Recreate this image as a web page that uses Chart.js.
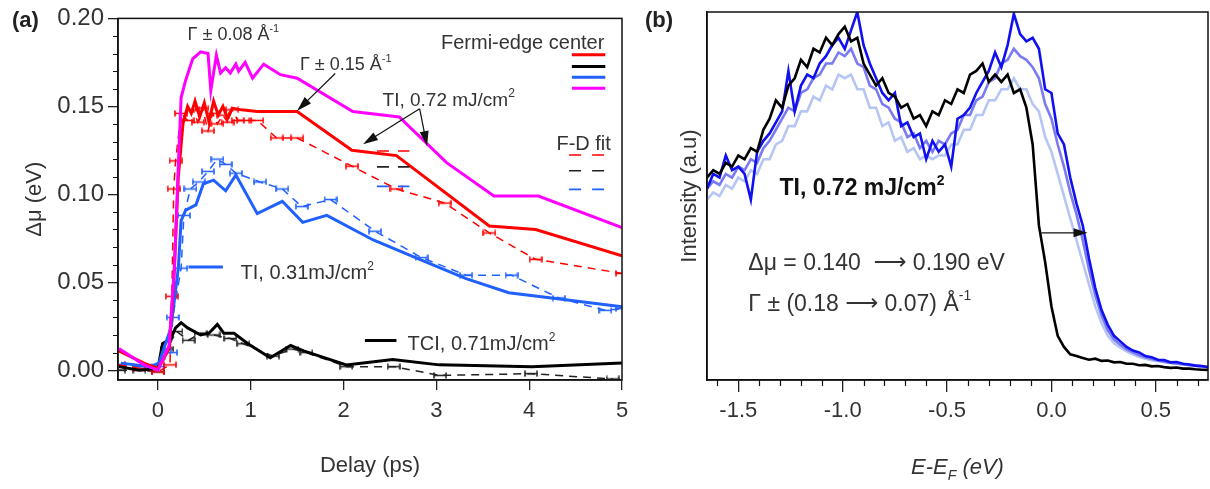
<!DOCTYPE html>
<html lang="en">
<head>
<meta charset="UTF-8">
<title>Fermi-edge shift and EDCs</title>
<script src="https://cdn.jsdelivr.net/npm/chart.js"></script>
<style>
  body { margin: 0; background: #fff; overflow: hidden; }
  #wrap { position: relative; width: 1210px; height: 489px; }
  canvas { position: absolute; top: 0; }
  #delayChart { left: 0; }
  #edcChart { left: 640px; }
</style>
</head>
<body>
<div id="wrap">
  <canvas id="delayChart" width="640" height="489"></canvas>
  <canvas id="edcChart" width="570" height="489"></canvas>
</div>

<script>
// ---------- (a) Fermi-edge shift vs pump-probe delay ----------
const delayTicks = [0, 1, 2, 3, 4, 5];
const shiftTicks = [0, 0.05, 0.10, 0.15, 0.20];

// Fermi-edge center, TI 0.72 mJ/cm2 at Γ ± 0.08 Å-1
const magentaT = [-0.42, -0.15, 0.0, 0.12, 0.18, 0.215, 0.25, 0.30, 0.375, 0.46, 0.54, 0.57, 0.63, 0.675, 0.73, 0.78, 0.84, 0.87, 0.94, 1.02, 1.14, 1.32, 1.50, 2.10, 2.60, 3.11, 3.62, 4.10, 5.0];
const magentaV = [0.0123, 0.003, 0.0, 0.014, 0.06, 0.11, 0.155, 0.165, 0.177, 0.181, 0.180, 0.159, 0.179, 0.169, 0.172, 0.169, 0.174, 0.170, 0.175, 0.166, 0.174, 0.168, 0.166, 0.147, 0.144, 0.118, 0.099, 0.099, 0.081];

// Fermi-edge center, TI 0.72 mJ/cm2 at Γ ± 0.15 Å-1
const redT = [-0.42, -0.15, 0.0, 0.12, 0.17, 0.22, 0.27, 0.32, 0.36, 0.40, 0.45, 0.50, 0.55, 0.60, 0.65, 0.70, 0.75, 0.80, 0.90, 1.07, 1.50, 2.09, 2.57, 3.57, 4.07, 5.0];
const redV = [0.011, 0.004, 0.001, 0.012, 0.05, 0.11, 0.14, 0.150, 0.146, 0.153, 0.144, 0.152, 0.141, 0.153, 0.145, 0.150, 0.143, 0.149, 0.148, 0.147, 0.147, 0.125, 0.122, 0.082, 0.080, 0.065];

// Fermi-edge center, TI 0.31 mJ/cm2
const blueT = [-0.40, -0.08, 0.01, 0.14, 0.22, 0.25, 0.30, 0.41, 0.49, 0.60, 0.73, 0.84, 1.07, 1.34, 1.56, 1.82, 2.32, 2.82, 3.32, 3.78, 4.24, 5.0];
const blueV = [0.004, 0.002, 0.004, 0.024, 0.058, 0.085, 0.091, 0.094, 0.106, 0.108, 0.102, 0.111, 0.089, 0.096, 0.084, 0.088, 0.074, 0.063, 0.052, 0.044, 0.041, 0.036];

// Fermi-edge center, TCI 0.71 mJ/cm2
const blackT = [-0.42, -0.2, 0.0, 0.05, 0.14, 0.19, 0.25, 0.32, 0.46, 0.55, 0.64, 0.71, 0.82, 0.97, 1.21, 1.43, 1.57, 2.03, 2.53, 3.03, 4.03, 5.0];
const blackV = [0.002, 0.0, 0.001, 0.015, 0.018, 0.024, 0.027, 0.024, 0.020, 0.021, 0.026, 0.021, 0.021, 0.015, 0.007, 0.014, 0.011, 0.003, 0.006, 0.003, 0.002, 0.004];

// F-D fit results with error bars
const redFitT = [-0.42, -0.2, 0.0, 0.13, 0.15, 0.17, 0.19, 0.25, 0.32, 0.38, 0.43, 0.48, 0.54, 0.59, 0.64, 0.70, 0.75, 0.80, 0.86, 0.92, 1.07, 1.28, 1.50, 2.09, 2.57, 3.09, 3.57, 4.07, 5.0];
const redFitV = [0.003, 0.001, -0.001, 0.003, 0.042, 0.103, 0.119, 0.146, 0.142, 0.148, 0.141, 0.149, 0.136, 0.146, 0.140, 0.145, 0.141, 0.148, 0.142, 0.142, 0.142, 0.132, 0.132, 0.116, 0.103, 0.095, 0.078, 0.063, 0.055];
const blueFitT = [-0.42, -0.2, 0.0, 0.14, 0.16, 0.25, 0.28, 0.35, 0.44, 0.54, 0.64, 0.73, 0.84, 1.10, 1.34, 1.55, 1.86, 2.34, 2.84, 3.32, 3.81, 4.32, 4.82, 5.0];
const blueFitV = [0.003, 0.002, 0.002, 0.010, 0.030, 0.058, 0.088, 0.103, 0.107, 0.113, 0.120, 0.117, 0.112, 0.107, 0.103, 0.093, 0.097, 0.079, 0.064, 0.054, 0.054, 0.041, 0.034, 0.035];
const blackFitT = [-0.42, -0.2, 0.0, 0.1, 0.2, 0.33, 0.46, 0.6, 0.78, 0.92, 1.24, 1.45, 1.6, 2.03, 2.54, 3.04, 4.02, 4.9];
const blackFitV = [0.0, 0.0, -0.001, 0.012, 0.022, 0.017, 0.021, 0.020, 0.018, 0.015, 0.008, 0.012, 0.010, 0.002, 0.002, -0.003, -0.002, -0.005];

// ---------- (b) energy distribution curves ----------
const energyTicks = [-1.5, -1.0, -0.5, 0.0, 0.5];
const energy = [
  -1.65, -1.62, -1.59, -1.56, -1.53, -1.50, -1.47, -1.44, -1.41, -1.38,
  -1.35, -1.32, -1.29, -1.26, -1.23, -1.20, -1.17, -1.14, -1.11, -1.08,
  -1.05, -1.02, -0.99, -0.96, -0.93, -0.90, -0.87, -0.84, -0.81, -0.78,
  -0.75, -0.72, -0.69, -0.66, -0.63, -0.60, -0.57, -0.54, -0.51, -0.48,
  -0.45, -0.42, -0.39, -0.36, -0.33, -0.30, -0.27, -0.24, -0.21, -0.18,
  -0.15, -0.12, -0.09, -0.06, -0.03, 0.00, 0.03, 0.06, 0.09, 0.12,
  0.15, 0.18, 0.21, 0.24, 0.27, 0.30, 0.33, 0.36, 0.39, 0.42,
  0.45, 0.48, 0.51, 0.54, 0.57, 0.60, 0.63, 0.66, 0.69, 0.72,
  0.75
];
const edcBlack = [
  55, 57, 56, 59, 58, 61, 60, 63, 62, 68,
  71, 76, 74, 80, 82, 87, 85, 90, 89, 93,
  91, 94, 96, 92, 93, 86, 83, 80, 82, 78,
  77, 74, 75, 71, 72, 69, 73, 72, 76, 75,
  79, 78, 83, 84, 86, 81, 83, 81, 83, 78,
  79, 74, 64, 42, 32, 20, 12, 9, 7, 6.5,
  6, 5.5, 5.8, 5.2, 5.3, 4.8, 4.9, 4.4, 4.4, 4.0,
  4.1, 3.7, 3.8, 3.5, 3.3, 3.4, 3.1, 3.1, 2.9, 2.8,
  2.7
];
const edcBlue = [
  52, 56, 55, 61, 57, 58, 56, 49, 62, 65,
  67, 70, 73, 84, 73, 80, 83, 82, 86, 88,
  91, 93, 90, 95, 100, 91, 86, 82, 78, 76,
  78, 69, 70, 66, 67, 60, 65, 62, 64, 58,
  71, 72, 74, 78, 81, 84, 89, 85, 91, 99.5,
  94, 92, 93, 90, 79, 78, 67, 64, 55, 48,
  42, 33, 25, 19, 15, 12, 10.5, 9, 8, 7.5,
  6.5, 6.2, 5.5, 5.4, 4.8, 4.9, 4.4, 4.2, 3.9, 3.8,
  3.5
];
const edcMid = [
  52, 54, 53, 56, 55, 58, 57, 60, 59, 63,
  65, 68, 71, 74, 73, 78, 79, 82, 83, 86,
  86, 89, 88, 90, 86, 85, 80, 79, 75, 74,
  71, 70, 66, 67, 63, 65, 62, 65, 64, 67,
  68, 72, 72, 76, 77, 81, 82, 86, 87, 90,
  88, 87, 85, 82, 75, 71, 64, 58, 51, 45,
  38, 30, 23, 17.5, 13.5, 11, 9.6, 8.3, 7.5, 6.7,
  6.2, 5.7, 5.3, 5.0, 4.7, 4.5, 4.3, 4.1, 3.9, 3.7,
  3.5
];
const edcLight = [
  49, 51, 50, 53, 52, 55, 54, 57, 56, 60,
  60, 64, 65, 69, 69, 73, 73, 77, 76, 80,
  79, 83, 82, 83, 79, 79, 74, 74, 69, 70,
  65, 66, 62, 63, 60, 61, 60, 61, 61, 64,
  64, 68, 68, 72, 72, 76, 76, 79, 79, 82,
  79, 79, 75, 73, 66, 62, 56, 50, 44, 38,
  32, 26, 20, 15.5, 12, 10, 8.8, 7.8, 7, 6.3,
  5.8, 5.4, 5.1, 4.8, 4.6, 4.4, 4.2, 4.0, 3.8, 3.6,
  3.4
];

const FONT = '"Liberation Sans", Arial, sans-serif';
const ARROW_FONT = '"DejaVu Sans", sans-serif';
const TEXT = '#333';
const RED = '#ff0000', MAGENTA = '#ff00ff', BLUE = '#2060ff', BLACK = '#000';

const pts = (xs, ys) => xs.map((x, i) => ({ x: x, y: ys[i] }));

// small horizontal error bar used as marker on the F-D fit points
function errorBar(color) {
  const c = document.createElement('canvas');
  c.width = 14; c.height = 7;
  const g = c.getContext('2d');
  g.strokeStyle = color;
  g.lineWidth = 1.6;
  g.beginPath();
  g.moveTo(1, 0.5); g.lineTo(1, 6.5);
  g.moveTo(13, 0.5); g.lineTo(13, 6.5);
  g.moveTo(1, 3.5); g.lineTo(13, 3.5);
  g.stroke();
  return c;
}

function solid(label, xs, ys, color, order) {
  return { label, data: pts(xs, ys), borderColor: color, borderWidth: 3, pointRadius: 0, tension: 0, order };
}
function fitted(label, xs, ys, color, order) {
  return {
    label, data: pts(xs, ys), borderColor: color, borderWidth: 1.5, borderDash: [8, 6],
    pointStyle: errorBar(color), pointRadius: 4, tension: 0, order
  };
}

// text with superscript / subscript runs: parts = [[text, 'sup'|'sub'|'arrow'|undefined], ...]
function rich(ctx, parts, x, y, size, opts) {
  opts = opts || {};
  const pre = (opts.italic ? 'italic ' : '') + (opts.bold ? 'bold ' : '');
  const small = Math.round(size * 0.62);
  const fontOf = p => {
    if (p[1] === 'arrow') return size + 'px ' + ARROW_FONT;
    return pre + (p[1] ? small : size) + 'px ' + FONT;
  };
  let w = 0;
  parts.forEach(p => { ctx.font = fontOf(p); w += ctx.measureText(p[0]).width; });
  let cx = opts.align === 'center' ? x - w / 2 : opts.align === 'right' ? x - w : x;
  ctx.textAlign = 'left';
  ctx.textBaseline = 'alphabetic';
  ctx.fillStyle = opts.color || TEXT;
  parts.forEach(p => {
    ctx.font = fontOf(p);
    const dy = p[1] === 'sup' ? -size * 0.45 : p[1] === 'sub' ? size * 0.28 : p[1] === 'arrow' ? -1 : 0;
    ctx.fillText(p[0], cx, y + dy);
    cx += ctx.measureText(p[0]).width;
  });
}

function arrow(ctx, x1, y1, x2, y2, len, half) {
  const a = Math.atan2(y2 - y1, x2 - x1);
  ctx.strokeStyle = '#111';
  ctx.fillStyle = '#111';
  ctx.lineWidth = 1.2;
  ctx.beginPath();
  ctx.moveTo(x1, y1);
  ctx.lineTo(x2 - Math.cos(a) * len * 0.8, y2 - Math.sin(a) * len * 0.8);
  ctx.stroke();
  ctx.beginPath();
  ctx.moveTo(x2, y2);
  ctx.lineTo(x2 - Math.cos(a) * len - Math.sin(a) * half, y2 - Math.sin(a) * len + Math.cos(a) * half);
  ctx.lineTo(x2 - Math.cos(a) * len + Math.sin(a) * half, y2 - Math.sin(a) * len - Math.cos(a) * half);
  ctx.closePath();
  ctx.fill();
}

function segment(ctx, x1, x2, y, color, width, dash) {
  ctx.save();
  ctx.strokeStyle = color;
  ctx.lineWidth = width;
  ctx.setLineDash(dash || []);
  ctx.beginPath();
  ctx.moveTo(x1, y);
  ctx.lineTo(x2, y);
  ctx.stroke();
  ctx.restore();
}

const delayNotes = {
  id: 'delayNotes',
  afterDraw(chart) {
    const { ctx, chartArea: ca } = chart;
    const X = v => chart.scales.x.getPixelForValue(v);
    const Y = v => chart.scales.y.getPixelForValue(v);
    ctx.save();
    // frame
    ctx.strokeStyle = '#111';
    ctx.lineWidth = 1.5;
    ctx.strokeRect(ca.left, ca.top, ca.right - ca.left, ca.bottom - ca.top);
    // minor ticks on the Δμ axis
    ctx.beginPath();
    for (let k = 1; k < 20; k++) {
      if (k % 5 === 0) continue;
      const y = Math.round(Y(k / 100)) + 0.5;
      ctx.moveTo(ca.left - 5, y);
      ctx.lineTo(ca.left, y);
    }
    ctx.lineWidth = 1.2;
    ctx.stroke();

    rich(ctx, [['(a)']], 12, 27, 22, { bold: true, color: '#222' });

    rich(ctx, [['Γ ± 0.08 Å'], ['-1', 'sup']], X(0.32), Y(0.1877), 18);
    rich(ctx, [['Γ ± 0.15 Å'], ['-1', 'sup']], X(1.53), Y(0.1704), 18);
    rich(ctx, [['TI, 0.72 mJ/cm'], ['2', 'sup']], X(2.42), Y(0.1503), 19);
    arrow(ctx, X(1.91), Y(0.1687), X(1.50), Y(0.1475), 15, 4.5);
    arrow(ctx, X(2.82), Y(0.1486), X(2.21), Y(0.1285), 15, 4.5);
    arrow(ctx, X(2.82), Y(0.1486), X(2.90), Y(0.1274), 15, 4.5);

    // legend: Fermi-edge center
    rich(ctx, [['Fermi-edge center']], X(4.81), Y(0.1827), 20, { align: 'right' });
    [[RED, 0.1793], [BLACK, 0.1726], [BLUE, 0.1665], [MAGENTA, 0.1603]].forEach(([c, v]) => {
      segment(ctx, X(4.46), X(4.82), Y(v), c, 3);
    });
    // legend: F-D fit
    rich(ctx, [['F-D fit']], X(4.88), Y(0.1251), 20, { align: 'right' });
    [[RED, 0.1223], ['#222', 0.1134], [BLUE, 0.1028]].forEach(([c, v]) => {
      segment(ctx, X(4.43), X(4.82), Y(v), c, 1.6, [12, 11]);
    });
    [[RED, 0.1246], ['#222', 0.1156], [BLUE, 0.1045]].forEach(([c, v]) => {
      segment(ctx, X(2.36), X(2.71), Y(v), c, 1.6, [12, 9]);
    });

    segment(ctx, X(0.33), X(0.70), Y(0.0587), BLUE, 3);
    rich(ctx, [['TI, 0.31mJ/cm'], ['2', 'sup']], X(0.89), Y(0.052), 20);
    segment(ctx, X(2.23), X(2.57), Y(0.0168), BLACK, 3);
    rich(ctx, [['TCI, 0.71mJ/cm'], ['2', 'sup']], X(2.69), Y(0.0112), 20);
    ctx.restore();
  }
};

const edcNotes = {
  id: 'edcNotes',
  afterDraw(chart) {
    const { ctx, chartArea: ca } = chart;
    const X = v => chart.scales.x.getPixelForValue(v);
    const Y = v => chart.scales.y.getPixelForValue(v);
    ctx.save();
    ctx.strokeStyle = '#111';
    ctx.lineWidth = 1.5;
    ctx.strokeRect(ca.left, ca.top, ca.right - ca.left, ca.bottom - ca.top);
    // minor ticks every 0.1 eV
    ctx.beginPath();
    for (let k = -16; k <= 7; k++) {
      if (k % 5 === 0) continue;
      const x = Math.round(X(k / 10)) + 0.5;
      ctx.moveTo(x, ca.bottom);
      ctx.lineTo(x, ca.bottom + 6);
    }
    ctx.lineWidth = 1.2;
    ctx.stroke();

    rich(ctx, [['(b)']], 5, 27, 22, { bold: true, color: '#222' });
    rich(ctx, [['E-E'], ['F', 'sub'], [' (eV)']], (ca.left + ca.right) / 2, 474, 22, { italic: true, align: 'center' });

    rich(ctx, [['TI, 0.72 mJ/cm'], ['2', 'sup']], X(-1.303), Y(50.3), 23, { bold: true, color: '#111' });
    rich(ctx, [['Δμ = 0.140  '], ['⟶', 'arrow'], [' 0.190 eV']], X(-1.452), Y(29.9), 23);
    rich(ctx, [['Γ ± (0.18 '], ['⟶', 'arrow'], [' 0.07) Å'], ['-1', 'sup']], X(-1.452), Y(18.8), 23);
    arrow(ctx, X(-0.048), Y(40), X(0.173), Y(40), 14, 4.5);
    ctx.restore();
  }
};

const tickFont = { family: FONT, size: 22 };

new Chart(document.getElementById('delayChart'), {
  type: 'line',
  data: {
    datasets: [
      solid('center Γ±0.08', magentaT, magentaV, MAGENTA, 1),
      solid('center Γ±0.15', redT, redV, RED, 2),
      solid('center TI 0.31', blueT, blueV, BLUE, 3),
      solid('center TCI 0.71', blackT, blackV, BLACK, 4),
      fitted('fit Γ±0.15', redFitT, redFitV, RED, 5),
      fitted('fit TI 0.31', blueFitT, blueFitV, BLUE, 6),
      fitted('fit TCI 0.71', blackFitT, blackFitV, '#222', 7)
    ]
  },
  options: {
    responsive: false,
    animation: false,
    layout: { padding: { left: 0, top: 12, right: 18, bottom: 0 } },
    plugins: { legend: { display: false }, tooltip: { enabled: false } },
    scales: {
      x: {
        type: 'linear', min: -0.43, max: 5,
        afterBuildTicks: s => { s.ticks = delayTicks.map(v => ({ value: v })); },
        afterFit: s => { s.height = 109; },
        grid: { drawOnChartArea: false, tickLength: 10, color: '#222', lineWidth: 1.3 },
        border: { color: '#111', width: 1.5 },
        ticks: { color: TEXT, font: tickFont, padding: 8, maxRotation: 0, callback: v => String(v) },
        title: { display: true, text: 'Delay (ps)', color: TEXT, font: tickFont, padding: { top: 0, bottom: 10 } }
      },
      y: {
        type: 'linear', min: -0.0056, max: 0.2,
        afterBuildTicks: s => { s.ticks = shiftTicks.map(v => ({ value: v })); },
        afterFit: s => { s.width = 118; },
        grid: { drawOnChartArea: false, tickLength: 10, color: '#222', lineWidth: 1.3 },
        border: { color: '#111', width: 1.5 },
        ticks: { color: TEXT, font: { family: FONT, size: 24 }, padding: 4, callback: v => v.toFixed(2) },
        title: { display: true, text: 'Δμ (eV)', color: TEXT, font: tickFont, padding: { top: 22, bottom: 0 } }
      }
    }
  },
  plugins: [delayNotes]
});

const edcLine = (label, ys, color, order) => ({
  label, data: pts(energy, ys), borderColor: color, borderWidth: 2.6, pointRadius: 0, tension: 0, order
});

new Chart(document.getElementById('edcChart'), {
  type: 'line',
  data: {
    datasets: [
      edcLine('before pump', edcBlack, '#000', 1),
      edcLine('delay 1', edcBlue, '#1010f0', 2),
      edcLine('delay 2', edcMid, '#7a7af2', 3),
      edcLine('delay 3', edcLight, '#b6c6f4', 4)
    ]
  },
  options: {
    responsive: false,
    animation: false,
    layout: { padding: { left: 0, top: 12, right: 2, bottom: 0 } },
    plugins: { legend: { display: false }, tooltip: { enabled: false } },
    scales: {
      x: {
        type: 'linear', min: -1.65, max: 0.75,
        afterBuildTicks: s => { s.ticks = energyTicks.map(v => ({ value: v })); },
        afterFit: s => { s.height = 109; },
        grid: { drawOnChartArea: false, tickLength: 12, color: '#222', lineWidth: 1.3 },
        border: { color: '#111', width: 1.5 },
        ticks: { color: TEXT, font: tickFont, padding: 6, maxRotation: 0, callback: v => v.toFixed(1) },
        title: { display: false }
      },
      y: {
        type: 'linear', min: 0, max: 100,
        afterFit: s => { s.width = 67; },
        grid: { display: false },
        border: { color: '#111', width: 1.5 },
        ticks: { display: false },
        title: { display: true, text: 'Intensity (a.u)', color: TEXT, font: tickFont, padding: { top: 37, bottom: 0 } }
      }
    }
  },
  plugins: [edcNotes]
});
</script>
</body>
</html>
